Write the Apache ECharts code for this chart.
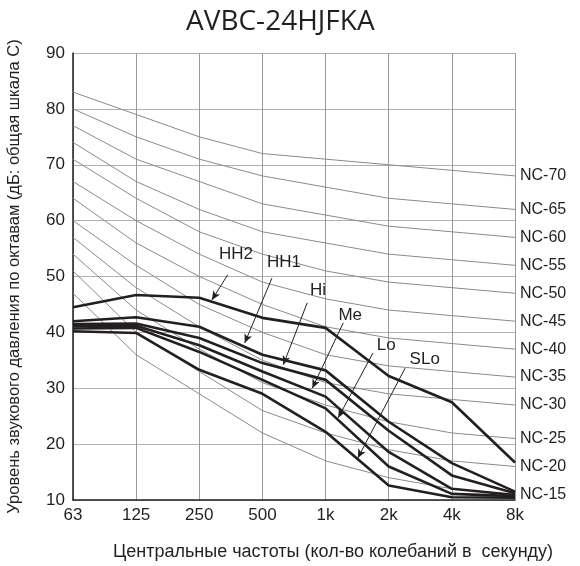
<!DOCTYPE html>
<html>
<head>
<meta charset="utf-8">
<script src="https://cdn.jsdelivr.net/npm/echarts@6/dist/echarts.min.js"></script>
<style>
  html, body { margin: 0; padding: 0; background: #fff; }
  #chart { width: 580px; height: 566px; }
</style>
</head>
<body>
<div id="chart"></div>
<script>
// частоты октавных полос
const freqLabels = ['63', '125', '250', '500', '1k', '2k', '4k', '8k'];

// кривые NC (тонкие серые)
const ncNames = ['NC-70', 'NC-65', 'NC-60', 'NC-55', 'NC-50', 'NC-45', 'NC-40', 'NC-35', 'NC-30', 'NC-25', 'NC-20', 'NC-15'];
const nc70 = [83, 79, 75, 72, 71, 70, 69, 68];
const nc65 = [80, 75, 71, 68, 66, 64, 63, 62];
const nc60 = [77, 71, 67, 63, 61, 59, 58, 57];
const nc55 = [74, 67, 62, 58, 56, 54, 53, 52];
const nc50 = [71, 64, 58, 54, 51, 49, 48, 47];
const nc45 = [67, 60, 54, 49, 46, 44, 43, 42];
const nc40 = [64, 56, 50, 45, 41, 39, 38, 37];
const nc35 = [60, 52, 45, 40, 36, 34, 33, 32];
const nc30 = [57, 48, 41, 35, 31, 29, 28, 27];
const nc25 = [54, 44, 37, 31, 27, 24, 22, 21];
const nc20 = [51, 40, 33, 26, 22, 19, 17, 16];
const nc15 = [47, 36, 29, 22, 17, 14, 12, 11];
const ncValues = [nc70, nc65, nc60, nc55, nc50, nc45, nc40, nc35, nc30, nc25, nc20, nc15];

// режимы вентилятора (толстые линии)
const modeNames = ['HH2', 'HH1', 'Hi', 'Me', 'Lo', 'SLo'];
const hh2 = [44.5, 46.7, 46.2, 42.6, 40.8, 32.2, 27.5, 16.7];
const hh1 = [42.0, 42.7, 41.0, 36.0, 33.2, 24.0, 16.6, 11.5];
const hi  = [41.5, 41.6, 39.0, 34.5, 31.5, 22.4, 14.4, 11.2];
const me  = [41.1, 41.2, 37.7, 33.0, 28.5, 18.6, 12.0, 10.9];
const lo  = [40.7, 40.8, 36.5, 31.5, 26.4, 16.0, 11.1, 10.7];
const slo = [40.2, 39.9, 33.3, 29.0, 22.2, 12.6, 10.5, 10.4];
const modeValues = [hh2, hh1, hi, me, lo, slo];

// подписи со стрелками: [x, y] в координатах графика
const arrowFrom = [[2.45, 50.3], [3.15, 49.7], [3.71, 45.3], [4.28, 41.7], [4.75, 36.3], [5.26, 33.6]];
const arrowTo   = [[2.20, 45.8], [2.72, 38.1], [3.33, 34.2], [3.79, 30.0], [4.20, 24.7], [4.51, 17.5]];
const textAt    = [[2.58, 54.0], [3.34, 52.6], [3.88, 47.6], [4.39, 43.1], [4.96, 37.7], [5.57, 35.1]];

let chartDom = document.getElementById('chart');
let myChart = echarts.init(chartDom);

function toPairs(arr) {
    return arr.map(function(v, i) { return [i, v]; });
}

let series = [];
ncValues.forEach(function(vals, k) {
    series.push({
        name: ncNames[k],
        type: 'line',
        data: toPairs(vals),
        symbol: 'none',
        silent: true,
        z: 2,
        lineStyle: { color: '#8a8a8a', width: 1 },
        endLabel: {
            show: true,
            formatter: '{a}',
            color: '#231f20',
            fontSize: 16,
            fontFamily: 'Liberation Sans',
            distance: 5
        }
    });
});
modeValues.forEach(function(vals, k) {
    series.push({
        name: modeNames[k],
        type: 'line',
        data: toPairs(vals),
        symbol: 'none',
        z: 3,
        lineStyle: { color: '#231f20', width: 2.6 },
        markLine: {
            silent: true,
            animation: false,
            symbol: ['none', 'arrow'],
            symbolSize: [6, 9],
            lineStyle: { color: '#231f20', width: 1, type: 'solid' },
            label: { show: false },
            data: [[{ coord: arrowFrom[k] }, { coord: arrowTo[k] }]]
        },
        markPoint: {
            silent: true,
            animation: false,
            symbol: 'circle',
            symbolSize: 0,
            label: {
                show: true,
                position: 'inside',
                formatter: modeNames[k],
                color: '#231f20',
                fontSize: 17,
                fontFamily: 'Liberation Sans'
            },
            data: [{ coord: textAt[k] }]
        }
    });
});

let option = {
    animation: false,
    title: {
        text: 'AVBC-24HJFKA',
        left: 181,
        top: 3,
        textStyle: {
            fontWeight: 'normal',
            fontSize: 28,
            color: '#231f20',
            fontFamily: 'Open Sans'
        }
    },
    grid: {
        left: 73,
        right: 65,
        top: 53,
        bottom: 66,
        outerBoundsMode: 'none'
    },
    xAxis: {
        type: 'value',
        min: 0,
        max: 7,
        interval: 1,
        name: 'Центральные частоты (кол-во колебаний в  секунду)',
        nameLocation: 'middle',
        nameGap: 43,
        nameTextStyle: {
            color: '#231f20',
            fontSize: 18,
            fontFamily: 'Liberation Sans',
            padding: [0, 0, 0, 78]
        },
        axisLine: { lineStyle: { color: '#231f20', width: 1.5 } },
        axisTick: { show: false },
        axisLabel: {
            color: '#231f20',
            fontSize: 17,
            fontFamily: 'Liberation Sans',
            margin: 7,
            formatter: function(v) { return freqLabels[v]; }
        },
        splitLine: { show: true, lineStyle: { color: '#9a9a9a', width: 1 } }
    },
    yAxis: {
        type: 'value',
        min: 10,
        max: 90,
        interval: 10,
        name: 'Уровень звукового давления по октавам (дБ: общая шкала С)',
        nameLocation: 'middle',
        nameGap: 50,
        nameTextStyle: {
            color: '#231f20',
            fontSize: 16.5,
            fontFamily: 'Liberation Sans'
        },
        axisLine: { show: true, lineStyle: { color: '#231f20', width: 1.5 } },
        axisTick: { show: false },
        axisLabel: {
            color: '#231f20',
            fontSize: 17,
            fontFamily: 'Liberation Sans',
            margin: 8
        },
        splitLine: { show: true, lineStyle: { color: '#b0b0b0', width: 1 } }
    },
    series: series
};
myChart.setOption(option);
window.addEventListener('resize', function() {
    myChart.resize();
});
</script>
</body>
</html>
